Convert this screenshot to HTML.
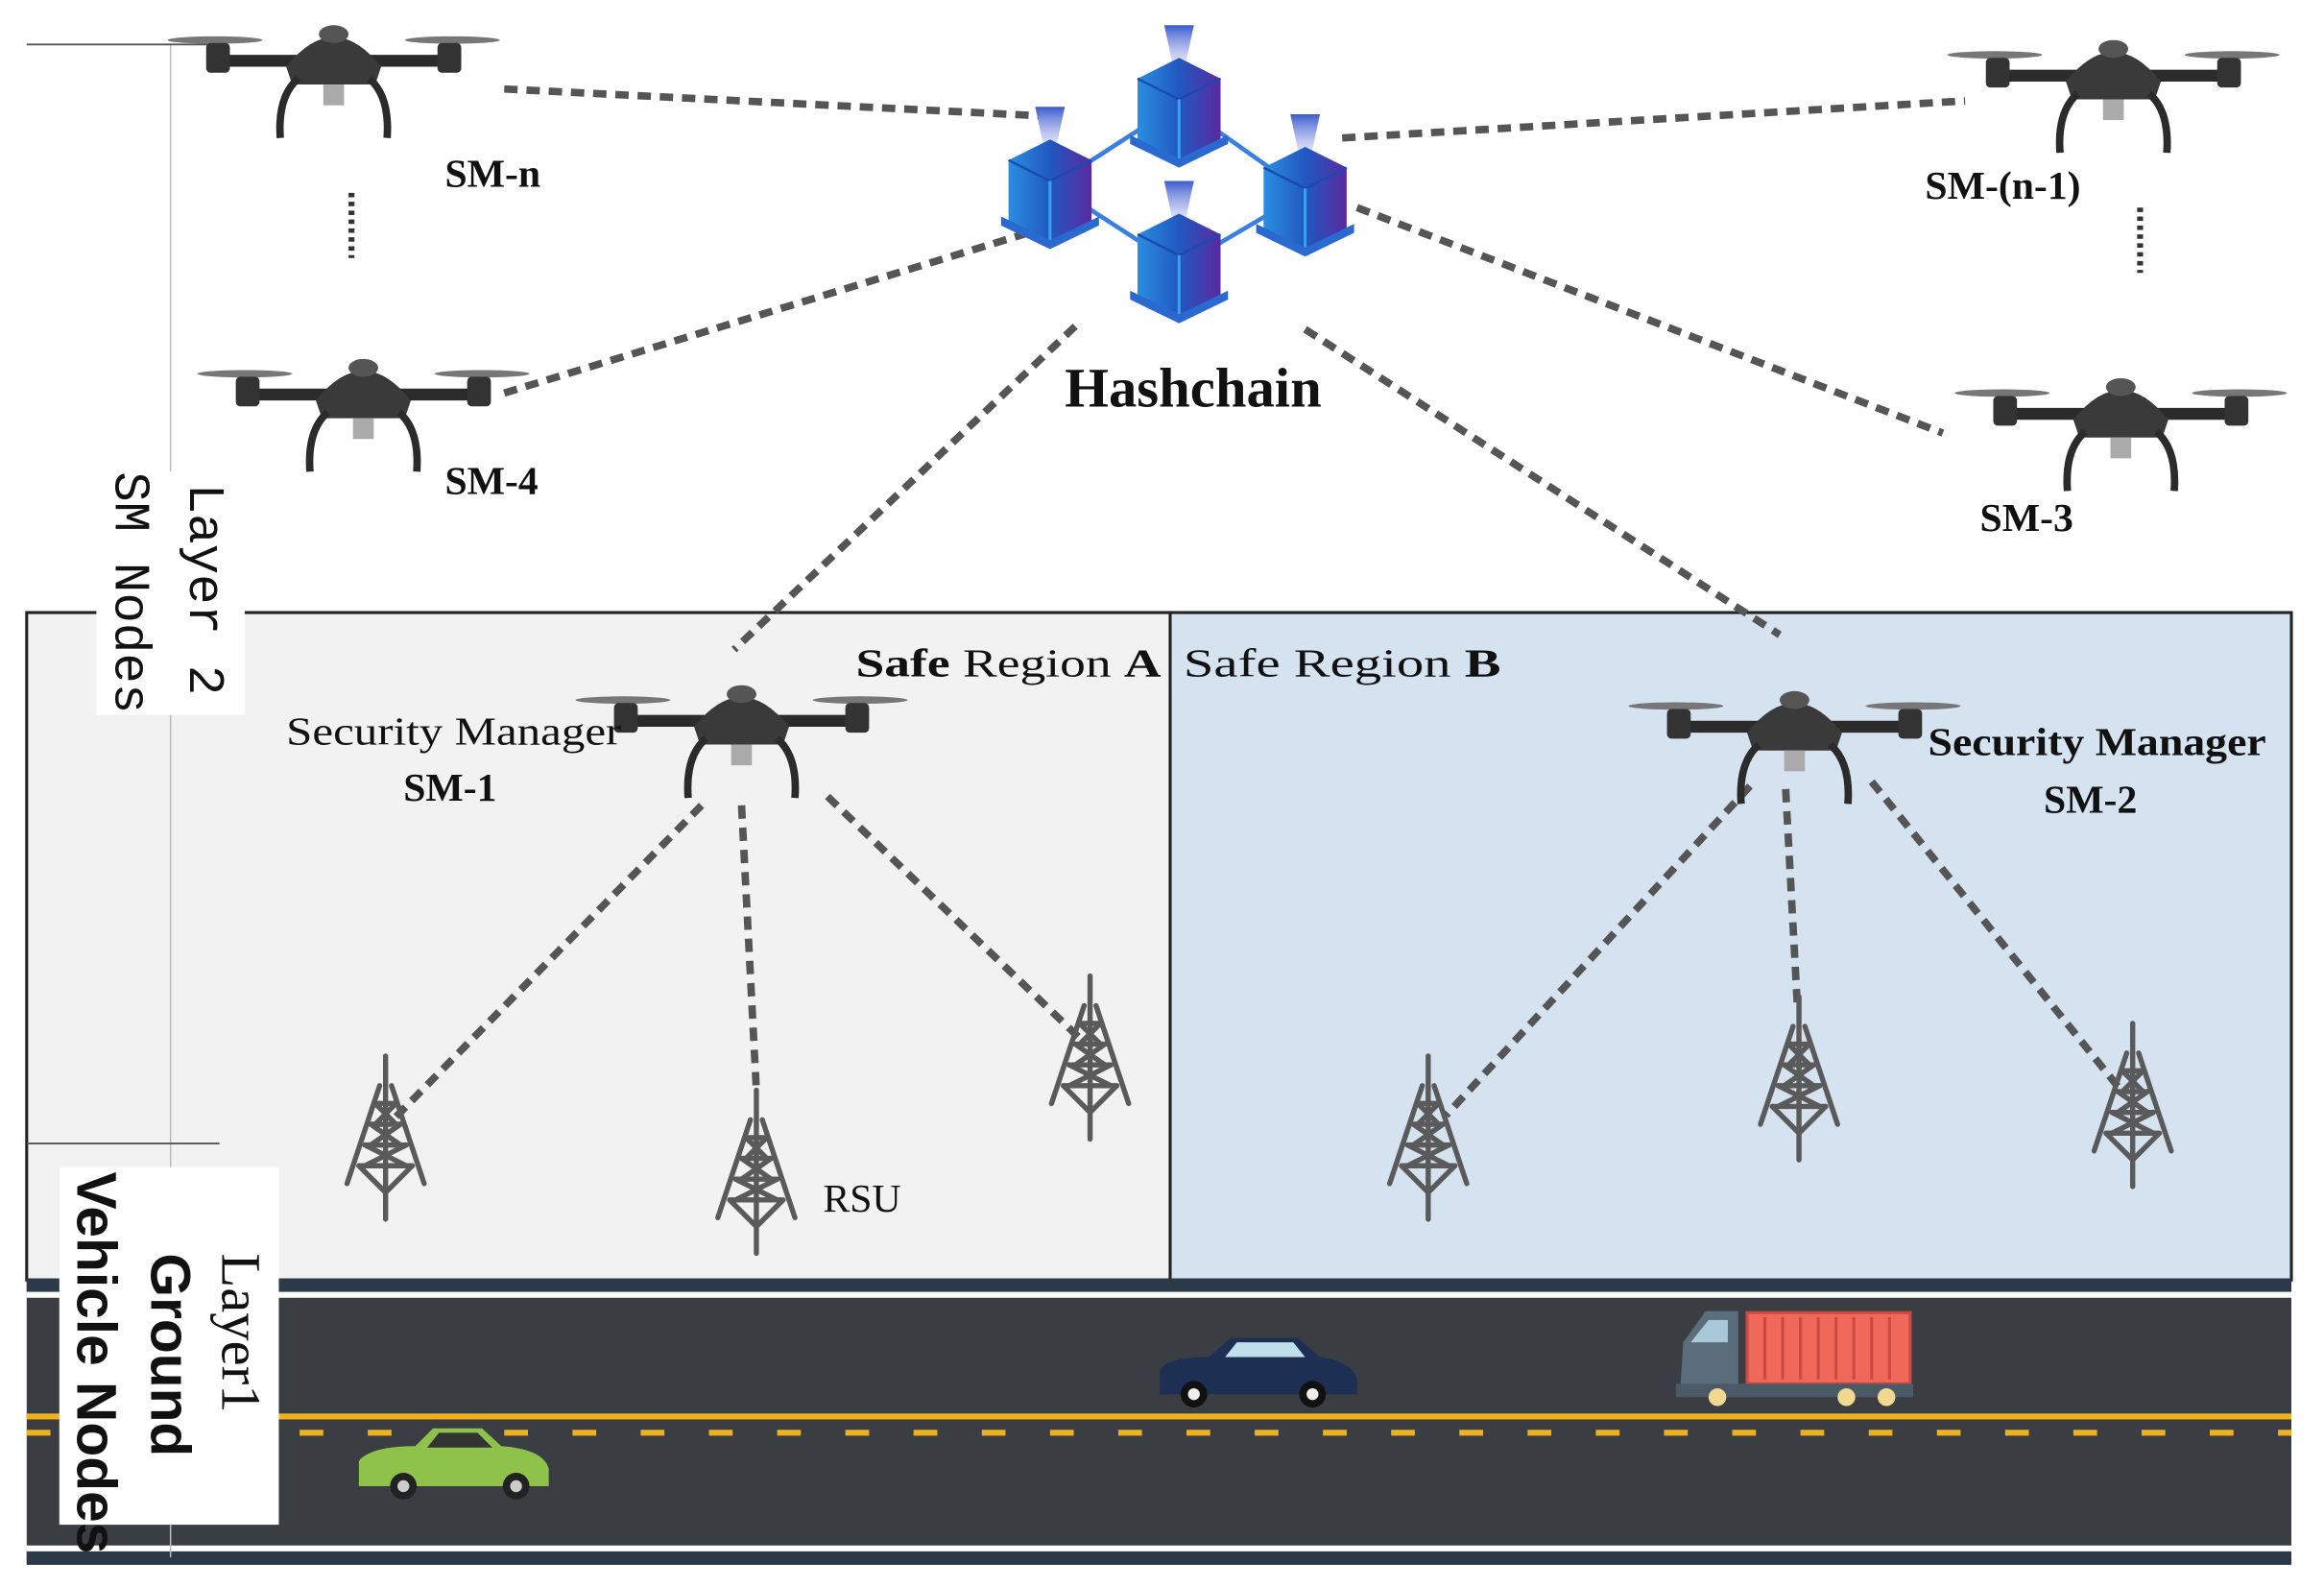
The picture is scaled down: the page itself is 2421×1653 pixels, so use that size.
<!DOCTYPE html>
<html><head><meta charset="utf-8"><style>html,body{margin:0;padding:0;background:#fff}svg{display:block}</style></head>
<body>
<svg width="2421" height="1653" viewBox="0 0 1567 1070" preserveAspectRatio="none" xmlns="http://www.w3.org/2000/svg">
<defs>
<linearGradient id="cg" x1="0" x2="1"><stop offset="0" stop-color="#2a8ee0"/><stop offset="0.5" stop-color="#2158c0"/><stop offset="1" stop-color="#5a2aa0"/></linearGradient>
<linearGradient id="bm" x1="0" y1="0" x2="0" y2="1"><stop offset="0" stop-color="#3a5bd0"/><stop offset="1" stop-color="#b0b8e8" stop-opacity="0.3"/></linearGradient>
<g id="drone">
  <ellipse cx="-80" cy="-18" rx="32" ry="2.5" fill="#777"/>
  <ellipse cx="80" cy="-18" rx="32" ry="2.5" fill="#777"/>
  <path d="M-78,-8 L78,-8 L72,0 L-72,0 Z" fill="#2b2b2b"/>
  <rect x="-86" y="-16" width="16" height="20" rx="3" fill="#333"/>
  <rect x="70" y="-16" width="16" height="20" rx="3" fill="#333"/>
  <path d="M-32,0 Q0,-40 32,0 L28,12 L-28,12 Z" fill="#3a3a3a"/>
  <ellipse cx="0" cy="-22" rx="10" ry="6" fill="#555"/>
  <path d="M-24,8 Q-38,20 -36,48" stroke="#2b2b2b" stroke-width="5" fill="none"/>
  <path d="M24,8 Q38,20 36,48" stroke="#2b2b2b" stroke-width="5" fill="none"/>
  <rect x="-7" y="12" width="14" height="14" fill="#aaa"/>
</g>
<g id="cube">
  <path d="M-10,-58 L10,-58 L4,-30 L-4,-30 Z" fill="url(#bm)"/>
  <path d="M-28,-22 L0,-36 L28,-22 L28,20 L0,34 L-28,20 Z" fill="url(#cg)"/>
  <path d="M-28,-22 L0,-8 L28,-22" stroke="#1a4ab0" stroke-width="1.5" fill="none"/>
  <line x1="0" y1="-8" x2="0" y2="34" stroke="#3aa0f0" stroke-width="2"/>
  <path d="M-33,16 L0,32 L33,16 L33,22 L0,38 L-33,22 Z" fill="#2a6ad0"/>
</g>
<g id="tower" stroke="#5a5a5a" stroke-width="3.5" fill="none" stroke-linecap="round">
  <line x1="0" y1="0" x2="0" y2="110"/>
  <path d="M-4,20 L-26,86 M4,20 L26,86"/>
  <path d="M-7,32 L7,46 M7,32 L-7,46 M-10,46 L10,60 M10,46 L-10,60 M-14,60 L14,74 M14,60 L-14,74 M-18,74 L0,92 L18,74"/>
  <line x1="-7" y1="32" x2="7" y2="32"/><line x1="-10" y1="46" x2="10" y2="46"/><line x1="-14" y1="60" x2="14" y2="60"/><line x1="-18" y1="74" x2="18" y2="74"/>
</g>
</defs>

<rect x="18" y="413" width="771" height="450" fill="#f2f2f2" stroke="#222" stroke-width="2"/>
<rect x="789" y="413" width="756" height="450" fill="#d5e2ef" stroke="#222" stroke-width="2"/>

<rect x="18" y="862" width="1527" height="193" fill="#3a3d42"/>
<rect x="18" y="862" width="1527" height="9" fill="#2b3a48"/>
<rect x="18" y="871" width="1527" height="4" fill="#fff"/>
<rect x="18" y="1042" width="1527" height="4" fill="#fff"/>
<rect x="18" y="1046" width="1527" height="9" fill="#2b3a48"/>
<rect x="18" y="953" width="1527" height="4" fill="#f0b21c"/>
<line x1="18" y1="966" x2="1545" y2="966" stroke="#f0b21c" stroke-width="4" stroke-dasharray="16,30"/>

<line x1="115" y1="30" x2="115" y2="1050" stroke="#bbb" stroke-width="1"/>
<line x1="18" y1="30" x2="140" y2="30" stroke="#555" stroke-width="1.2"/>
<line x1="18" y1="771" x2="148" y2="771" stroke="#555" stroke-width="1.2"/>

<g stroke="#555" stroke-width="5" stroke-dasharray="9,6" fill="none">
<line x1="340" y1="60" x2="700" y2="78"/>
<line x1="905" y1="93" x2="1325" y2="68"/>
<line x1="340" y1="265" x2="700" y2="155"/>
<line x1="915" y1="140" x2="1310" y2="292"/>
<line x1="725" y1="220" x2="495" y2="438"/>
<line x1="880" y1="222" x2="1200" y2="428"/>
<line x1="473" y1="543" x2="265" y2="755"/>
<line x1="500" y1="543" x2="510" y2="735"/>
<line x1="558" y1="537" x2="728" y2="700"/>
<line x1="1180" y1="530" x2="975" y2="752"/>
<line x1="1204" y1="532" x2="1212" y2="680"/>
<line x1="1262" y1="527" x2="1430" y2="735"/>
</g>
<g stroke="#333" stroke-width="4" stroke-dasharray="3,3">
<line x1="237" y1="130" x2="237" y2="174"/>
<line x1="1443" y1="140" x2="1443" y2="184"/>
</g>

<g stroke="#3a80e0" stroke-width="3">
<line x1="710" y1="125" x2="795" y2="70"/><line x1="795" y1="70" x2="880" y2="130"/>
<line x1="710" y1="125" x2="795" y2="180"/><line x1="795" y1="180" x2="880" y2="130"/>
</g>
<use href="#cube" x="795" y="75"/>
<use href="#cube" x="708" y="130"/>
<use href="#cube" x="880" y="135"/>
<use href="#cube" x="795" y="180"/>

<use href="#drone" x="225" y="45"/>
<use href="#drone" x="1425" y="55"/>
<use href="#drone" x="245" y="270"/>
<use href="#drone" x="1430" y="283"/>
<use href="#drone" x="500" y="490"/>
<use href="#drone" x="1210" y="494"/>

<use href="#tower" x="260" y="712"/>
<use href="#tower" x="510" y="735"/>
<use href="#tower" x="735" y="658"/>
<use href="#tower" x="963" y="712"/>
<use href="#tower" x="1213" y="672"/>
<use href="#tower" x="1438" y="690"/>

<g>
<path d="M242,985 Q250,975 280,975 L292,963 L325,963 L338,975 Q366,977 370,990 L370,1002 L242,1002 Z" fill="#8fc24a"/>
<path d="M296,966 L322,966 L332,976 L288,976 Z" fill="#333"/>
<circle cx="272" cy="1002" r="9" fill="#222"/><circle cx="272" cy="1002" r="4" fill="#ccc"/>
<circle cx="348" cy="1002" r="9" fill="#222"/><circle cx="348" cy="1002" r="4" fill="#ccc"/>
</g>
<g>
<path d="M782,925 Q785,915 815,915 L830,902 L875,902 L890,915 Q912,918 915,930 L915,940 L782,940 Z" fill="#1d2f52"/>
<path d="M834,905 L872,905 L880,915 L826,915 Z" fill="#bfe0ea"/>
<circle cx="805" cy="940" r="9" fill="#111"/><circle cx="805" cy="940" r="4" fill="#eee"/>
<circle cx="885" cy="940" r="9" fill="#111"/><circle cx="885" cy="940" r="4" fill="#eee"/>
</g>
<g>
<rect x="1178" y="885" width="110" height="48" fill="#f0685a" stroke="#c94a40" stroke-width="2"/>
<g stroke="#c94a40" stroke-width="2"><line x1="1190" y1="888" x2="1190" y2="930"/><line x1="1202" y1="888" x2="1202" y2="930"/><line x1="1214" y1="888" x2="1214" y2="930"/><line x1="1226" y1="888" x2="1226" y2="930"/><line x1="1238" y1="888" x2="1238" y2="930"/><line x1="1250" y1="888" x2="1250" y2="930"/><line x1="1262" y1="888" x2="1262" y2="930"/><line x1="1274" y1="888" x2="1274" y2="930"/></g>
<path d="M1133,935 L1135,905 L1150,884 L1172,884 L1172,935 Z" fill="#5a6d7a"/>
<path d="M1140,905 L1152,890 L1165,890 L1165,905 Z" fill="#a8c8d8"/>
<rect x="1130" y="933" width="160" height="9" fill="#4a5a66"/>
<circle cx="1158" cy="942" r="6" fill="#f0d890"/><circle cx="1245" cy="942" r="6" fill="#f0d890"/><circle cx="1272" cy="942" r="6" fill="#f0d890"/>
</g>

<g font-family="Liberation Serif, serif" fill="#111">
<text x="300" y="126" font-size="27" font-weight="bold">SM-n</text>
<text x="1298" y="134" font-size="27" font-weight="bold">SM-(n-1)</text>
<text x="300" y="333" font-size="27" font-weight="bold">SM-4</text>
<text x="1335" y="358" font-size="27" font-weight="bold">SM-3</text>
<text x="718" y="274" font-size="38" font-weight="bold">Hashchain</text>
<text x="193" y="502" font-size="27" textLength="226" lengthAdjust="spacingAndGlyphs">Security Manager</text>
<text x="272" y="540" font-size="27" font-weight="bold">SM-1</text>
<text x="577" y="456" font-size="27" textLength="206" lengthAdjust="spacingAndGlyphs"><tspan font-weight="bold">Safe</tspan> Region <tspan font-weight="bold">A</tspan></text>
<text x="798" y="456" font-size="27" textLength="214" lengthAdjust="spacingAndGlyphs">Safe Region  <tspan font-weight="bold">B</tspan></text>
<text x="1300" y="509" font-size="27" font-weight="bold" textLength="228" lengthAdjust="spacingAndGlyphs">Security Manager</text>
<text x="1378" y="548" font-size="27" font-weight="bold">SM-2</text>
<text x="555" y="817" font-size="27">RSU</text>
</g>

<rect x="65" y="318" width="100" height="164" fill="#fff"/>
<g font-family="Liberation Mono, monospace" font-size="34" fill="#111">
<text transform="translate(128,326) rotate(90)">Layer 2</text>
<text transform="translate(78,318) rotate(90)">SM Nodes</text>
</g>
<rect x="40" y="787" width="148" height="241" fill="#fff"/>
<text transform="translate(150,845) rotate(90)" font-family="Liberation Serif, serif" font-size="38" fill="#111">Layer1</text>
<text transform="translate(102,845) rotate(90)" font-family="Liberation Sans, sans-serif" font-size="38" font-weight="bold" fill="#111">Ground</text>
<text transform="translate(52,790) rotate(90)" font-family="Liberation Sans, sans-serif" font-size="38" font-weight="bold" fill="#111">Vehicle Nodes</text>
</svg>
</body></html>
